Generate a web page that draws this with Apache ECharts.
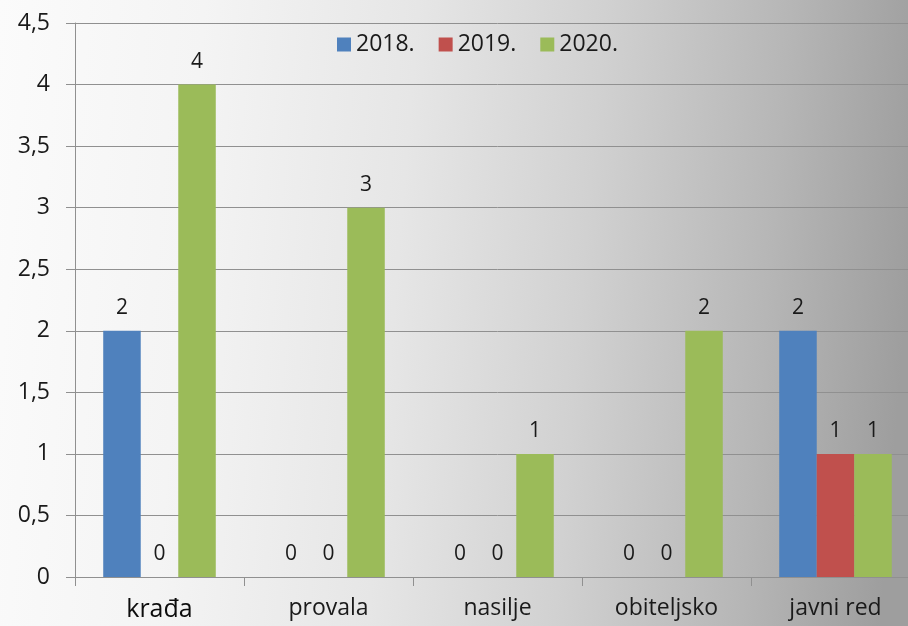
<!DOCTYPE html>
<html>
<head>
<meta charset="utf-8">
<script src="https://cdn.jsdelivr.net/npm/echarts@6/dist/echarts.min.js"></script>
<style>
  html, body { margin: 0; padding: 0; overflow: hidden; width: 908px; height: 626px; }
  #chart { width: 925px; height: 626px; }
</style>
</head>
<body>
<div id="chart"></div>
<script>
var categories = ['krađa', 'provala', 'nasilje', 'obiteljsko', 'javni red'];
var seriesNames = ['2018.', '2019.', '2020.'];
var values2018 = [2, 0, 0, 0, 2];
var values2019 = [0, 0, 0, 0, 1];
var values2020 = [4, 3, 1, 2, 1];
var seriesColors = ['#4F81BD', '#C0504D', '#9BBB59'];

var FONT = '"Open Sans", "Noto Sans", sans-serif';
var TEXT = '#1a1a1a';
var GRID = '#909090';

var chart = echarts.init(document.getElementById('chart'));

var catData = categories.map(function (c, i) {
  if (i === 0) {
    return { value: c, textStyle: { fontSize: 25, color: '#0d0d0d' } };
  }
  return c;
});

function makeSeries(name, data, color) {
  return {
    name: name,
    type: 'bar',
    data: data,
    barGap: '0%',
    barCategoryGap: '33.4%',
    itemStyle: { color: color },
    label: {
      show: true,
      position: 'top',
      distance: 12,
      fontFamily: FONT,
      fontSize: 21,
      color: TEXT
    }
  };
}

chart.setOption({
  backgroundColor: new echarts.graphic.LinearGradient(0, 0, 1, 0.12, [
    { offset: 0, color: '#fbfbfb' },
    { offset: 0.22, color: '#f4f4f4' },
    { offset: 0.45, color: '#e6e6e6' },
    { offset: 0.65, color: '#d1d1d1' },
    { offset: 0.85, color: '#b6b6b6' },
    { offset: 1, color: '#9e9e9e' }
  ]),
  animation: false,
  textStyle: { fontFamily: FONT },
  legend: {
    data: seriesNames,
    left: 332,
    top: 28,
    icon: 'rect',
    itemWidth: 14,
    itemHeight: 14,
    itemGap: 24,
    textStyle: { fontFamily: FONT, fontSize: 23, color: TEXT }
  },
  grid: { left: 75, top: 23, width: 845, height: 554, containLabel: false },
  xAxis: {
    type: 'category',
    data: catData,
    axisLine: { show: true, lineStyle: { color: GRID, width: 1 } },
    axisTick: { show: true, length: 9, interval: 0, alignWithLabel: false, lineStyle: { color: GRID } },
    axisLabel: { interval: 0, margin: 20, fontFamily: FONT, fontSize: 23, color: TEXT }
  },
  yAxis: {
    type: 'value',
    min: 0,
    max: 4.5,
    interval: 0.5,
    axisLine: { show: true, lineStyle: { color: GRID, width: 1 } },
    axisTick: { show: true, length: 9, lineStyle: { color: GRID } },
    splitLine: { show: true, lineStyle: { color: GRID, width: 1 } },
    axisLabel: {
      margin: 25,
      fontFamily: FONT,
      fontSize: 23,
      color: TEXT,
      formatter: function (v) { return String(v).replace('.', ','); }
    }
  },
  series: [
    makeSeries(seriesNames[0], values2018, seriesColors[0]),
    makeSeries(seriesNames[1], values2019, seriesColors[1]),
    makeSeries(seriesNames[2], values2020, seriesColors[2])
  ]
});
</script>
</body>
</html>
